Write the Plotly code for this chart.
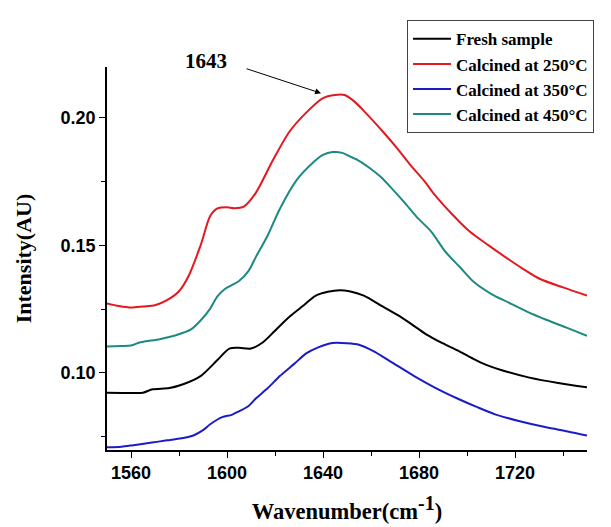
import plotly.graph_objects as go

# ---- data ----
fresh_x = [1550, 1560, 1565, 1569, 1576, 1582, 1589, 1596, 1601, 1605, 1610, 1615, 1620, 1626, 1632, 1637,
           1642, 1647, 1651, 1657, 1664, 1671, 1677, 1683, 1690, 1696, 1702, 1708, 1717, 1726, 1738, 1750]
fresh_y = [0.0922, 0.0921, 0.0922, 0.0935, 0.0940, 0.0956, 0.0987, 0.1050, 0.1095, 0.1098, 0.1095, 0.1120,
           0.1165, 0.1220, 0.1265, 0.1303, 0.1318, 0.1324, 0.1320, 0.1303, 0.1265, 0.1227, 0.1190, 0.1151,
           0.1115, 0.1088, 0.1058, 0.1031, 0.1003, 0.0981, 0.0960, 0.0943]

c250_x = [1550, 1555, 1560, 1565, 1570, 1575, 1580, 1584, 1589, 1593, 1596, 1600, 1603, 1607, 1612, 1619,
          1626, 1633, 1640, 1645, 1649, 1653, 1657, 1665, 1671, 1676, 1682, 1687, 1694, 1701, 1709, 1716,
          1723, 1730, 1740, 1750]
c250_y = [0.1272, 0.1262, 0.1256, 0.1260, 0.1265, 0.1285, 0.1320, 0.1380, 0.1500, 0.1615, 0.1645, 0.1650,
          0.1646, 0.1652, 0.1706, 0.1832, 0.1946, 0.2021, 0.2078, 0.2090, 0.2090, 0.2065, 0.2028, 0.1946,
          0.1880, 0.1820, 0.1755, 0.1693, 0.1620, 0.1555, 0.1500, 0.1454, 0.1410, 0.1370, 0.1335, 0.1303]

c350_x = [1550, 1556, 1561, 1568, 1575, 1581, 1586, 1590, 1593, 1598, 1602, 1605, 1609, 1612, 1617, 1622,
          1628, 1633, 1638, 1644, 1650, 1655, 1661, 1668, 1678, 1687, 1696, 1704, 1712, 1722, 1733, 1742, 1750]
c350_y = [0.0708, 0.0710, 0.0716, 0.0725, 0.0735, 0.0743, 0.0754, 0.0775, 0.0798, 0.0826, 0.0835, 0.0849,
          0.0870, 0.0899, 0.0940, 0.0987, 0.1035, 0.1076, 0.1100, 0.1117, 0.1116, 0.1110, 0.1085, 0.1045,
          0.0987, 0.0940, 0.0899, 0.0866, 0.0836, 0.0810, 0.0786, 0.0770, 0.0754]

c450_x = [1550, 1556, 1560, 1564, 1572, 1579, 1585, 1589, 1593, 1596, 1599, 1605, 1609, 1612, 1617, 1622,
          1629, 1636, 1640, 1644, 1648, 1651, 1655, 1660, 1664, 1669, 1674, 1679, 1685, 1691, 1697, 1703,
          1710, 1717, 1725, 1733, 1742, 1750]
c450_y = [0.1103, 0.1105, 0.1107, 0.1120, 0.1132, 0.1148, 0.1170, 0.1205, 0.1252, 0.1300, 0.1328, 0.1360,
          0.1400, 0.1454, 0.1540, 0.1643, 0.1756, 0.1826, 0.1855, 0.1866, 0.1863, 0.1850, 0.1832, 0.1800,
          0.1769, 0.1720, 0.1668, 0.1612, 0.1555, 0.1475, 0.1415, 0.1355, 0.1310, 0.1277, 0.1240, 0.1208,
          0.1175, 0.1145]

series_names = ["Fresh sample", "Calcined at 250\u00b0C", "Calcined at 350\u00b0C", "Calcined at 450\u00b0C"]
series_colors = ["#000000", "#e3191f", "#1c1cc6", "#1b8a82"]

x_ticks = [1560, 1600, 1640, 1680, 1720]
x_minor = [1580, 1620, 1660, 1700, 1740]
y_ticks = [0.10, 0.15, 0.20]
y_tick_text = ["0.10", "0.15", "0.20"]
y_minor = [0.075, 0.125, 0.175]

peak_label = "1643"
peak_x = 1639.2
peak_y = 0.2097

fig = go.Figure()
for name, color, xs, ys in zip(series_names, series_colors,
                               [fresh_x, c250_x, c350_x, c450_x],
                               [fresh_y, c250_y, c350_y, c450_y]):
    fig.add_trace(go.Scatter(x=xs, y=ys, mode="lines", name=name,
                             line=dict(color=color, width=2, shape="spline", smoothing=0.8)))

serif = "Liberation Serif, Times New Roman, serif"
sans = "Liberation Sans, Arial, sans-serif"

fig.update_layout(
    width=611, height=527,
    margin=dict(l=99, r=32, t=45, b=85),
    paper_bgcolor="white", plot_bgcolor="white",
    showlegend=True,
    legend=dict(x=0.625, y=1.122, xanchor="left", yanchor="top",
                bordercolor="#444444", borderwidth=1, bgcolor="white",
                font=dict(family=serif, size=17, color="black", weight="bold"),
                tracegroupgap=0, itemwidth=38),
    xaxis=dict(range=[1550, 1750], tickvals=x_ticks, ticktext=[str(v) for v in x_ticks],
               showgrid=False, zeroline=False, showline=True, linecolor="black", linewidth=1.5,
               ticks="outside", ticklen=6, tickwidth=1.2, tickcolor="black",
               minor=dict(tickvals=x_minor, ticks="outside", ticklen=4,
                          tickwidth=1.2, tickcolor="black"),
               tickfont=dict(family=sans, size=18, color="black", weight="bold"),
               title=dict(text="Wavenumber(cm<sup><span style='font-size:20px'>-1</span></sup>)",
                          standoff=21,
                          font=dict(family=serif, size=22.5, color="black", weight="bold"))),
    yaxis=dict(range=[0.0697, 0.22], tickvals=y_ticks, ticktext=y_tick_text,
               showgrid=False, zeroline=False, showline=True, linecolor="black", linewidth=1.5,
               ticks="outside", ticklen=6, tickwidth=1.2, tickcolor="black",
               minor=dict(tickvals=y_minor, ticks="outside", ticklen=4,
                          tickwidth=1.2, tickcolor="black"),
               tickfont=dict(family=sans, size=18, color="black", weight="bold"),
               title=dict(text="Intensity(AU)", standoff=23,
                          font=dict(family=serif, size=22, color="black", weight="bold"))),
)

fig.add_annotation(x=peak_x, y=peak_y, xref="x", yref="y", text="",
                   showarrow=True, arrowhead=2, arrowsize=1.2, arrowwidth=1, arrowcolor="black",
                   ax=-76, ay=-25, standoff=0, startstandoff=0)
fig.add_annotation(x=peak_x, y=peak_y, xref="x", yref="y", text=peak_label,
                   showarrow=False, xshift=-115, yshift=32,
                   font=dict(family=serif, size=21, color="black", weight="bold"))

fig.write_html("out.html")
